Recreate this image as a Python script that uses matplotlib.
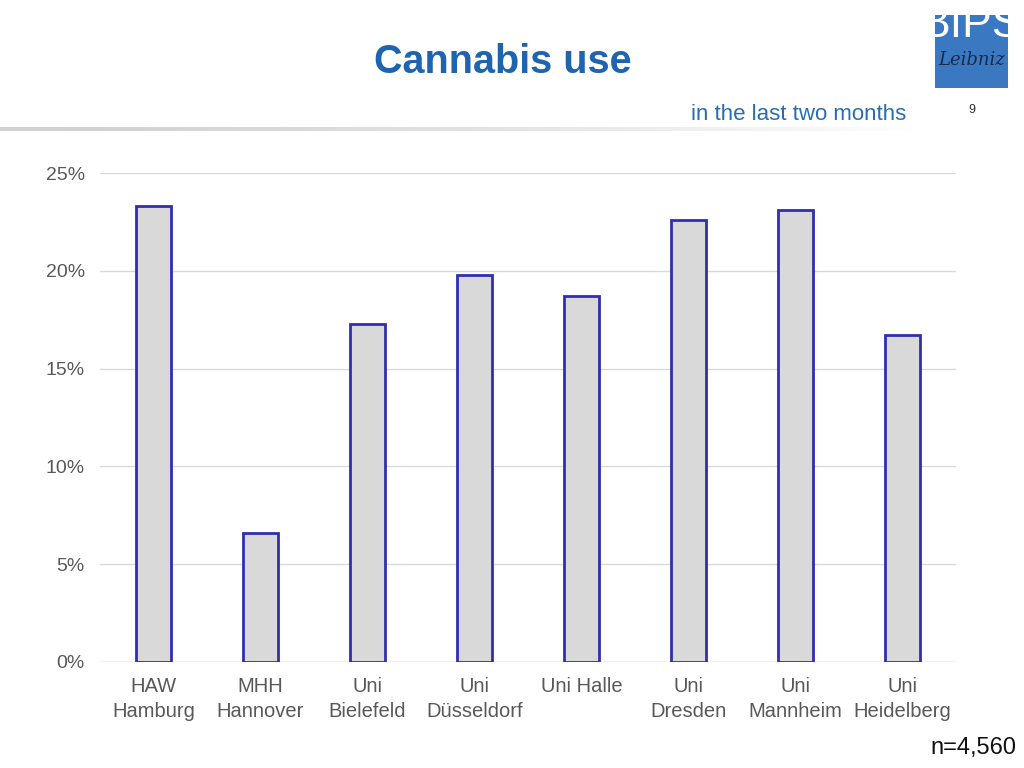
import matplotlib
matplotlib.use("Agg")
import matplotlib.pyplot as plt
import numpy as np
from matplotlib.patches import Rectangle

plt.rcParams['font.family'] = ['Liberation Sans', 'DejaVu Sans']

categories = ["HAW\nHamburg", "MHH\nHannover", "Uni\nBielefeld", "Uni\nDüsseldorf",
              "Uni Halle", "Uni\nDresden", "Uni\nMannheim", "Uni\nHeidelberg"]
values = [23.3, 6.6, 17.3, 19.8, 18.7, 22.6, 23.1, 16.7]
yticks = [0, 5, 10, 15, 20, 25]
ytick_labels = ["0%", "5%", "10%", "15%", "20%", "25%"]

fig = plt.figure(figsize=(10.24, 7.68), dpi=100)
W, H = 1024, 768

ax = fig.add_axes([100 / W, 1 - 662 / H, 856 / W, (662 - 173) / H])
x = np.arange(len(categories))
ax.bar(x, values, width=0.32, color="#d9d9d9", edgecolor="#2f2fb0", linewidth=2.0, zorder=3)
ax.set_xlim(-0.5, len(categories) - 0.5)
ax.set_ylim(0, 25)
ax.set_yticks(yticks)
ax.set_yticklabels(ytick_labels, color="#595959", fontsize=14)
ax.set_xticks(x)
ax.set_xticklabels(categories, color="#595959", fontsize=14.5, linespacing=1.38)
ax.tick_params(axis='x', length=0, pad=11)
ax.tick_params(axis='y', length=0, pad=11)
ax.grid(axis='y', color="#d9d9d9", linewidth=1, zorder=0)
for s in ax.spines.values():
    s.set_visible(False)
ax.axhline(0, color="#d0d0d0", linewidth=1, zorder=2)

# Title and subtitle
fig.text(503 / W, 1 - 62 / H, "Cannabis use", ha="center", va="center",
         fontsize=28.5, fontweight="bold", color="#1f64ae")
fig.text(906 / W, 1 - 115 / H, "in the last two months", ha="right", va="center",
         fontsize=16, color="#2a6db3")
fig.text(972 / W, 1 - 110 / H, "9", ha="center", va="center", fontsize=9, color="#333333")
fig.text(1016 / W, 1 - 748 / H, "n=4,560", ha="right", va="center", fontsize=17, color="#111111")

# gradient separator line
gax = fig.add_axes([0, 1 - 131 / H, 920 / W, 4 / H])
grad = np.linspace(0, 1, 256)
rgb = np.ones((1, 256, 3))
shade = 0.82 + 0.18 * grad ** 1.5
rgb[0, :, 0] = shade
rgb[0, :, 1] = shade
rgb[0, :, 2] = shade
gax.imshow(rgb, aspect="auto", extent=[0, 1, 0, 1])
gax.axis("off")

# logo
lax = fig.add_axes([935 / W, 1 - 88 / H, 73 / W, 73 / H])
lax.set_xlim(0, 1)
lax.set_ylim(0, 1)
lax.add_patch(Rectangle((0, 0), 1, 1, color="#3a78c2"))
t = lax.text(0.5, 0.86, "BIPS", ha="center", va="center", fontsize=32, color="white")
t.set_clip_on(True)
t2 = lax.text(0.5, 0.38, "Leibniz", ha="center", va="center", fontsize=13,
              color="#1a2a4a", style="italic", family="DejaVu Serif")
lax.axis("off")

fig.savefig("out.png", dpi=100)
